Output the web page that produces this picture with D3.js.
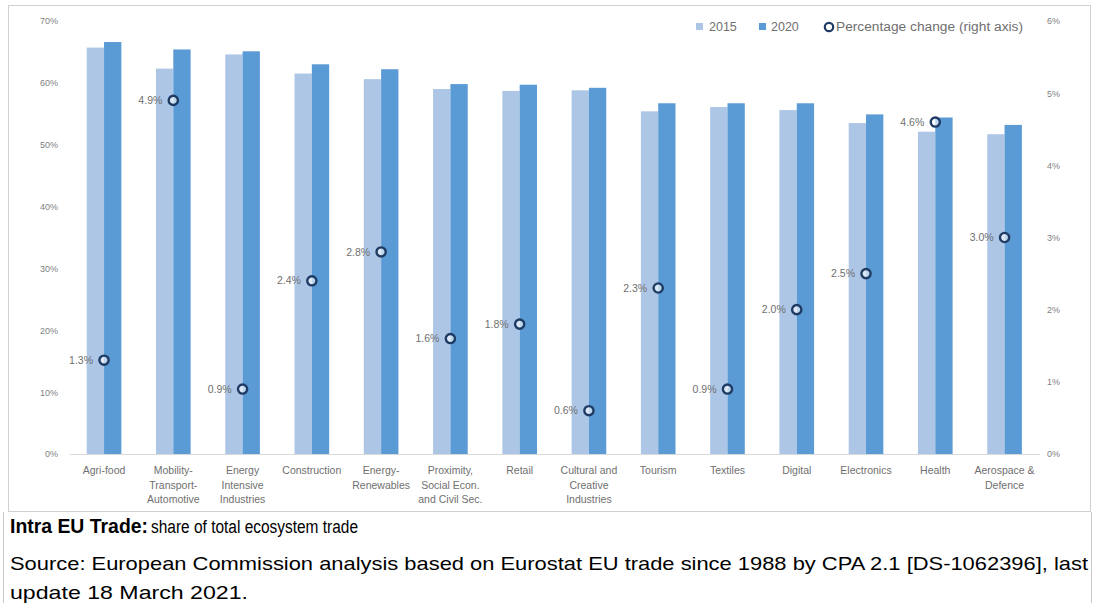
<!DOCTYPE html>
<html>
<head>
<meta charset="utf-8">
<script src="https://cdn.jsdelivr.net/npm/d3@7"></script>
<style>
  body { margin: 0; background: #fff; }
  svg { display: block; font-family: "Liberation Sans", Arial, sans-serif; }
</style>
</head>
<body>
<svg id="chart" width="1095" height="603"></svg>
<script>
// categories (line breaks as in the original axis labels)
const categories = [
  "Agri-food", "Mobility-\nTransport-\nAutomotive", "Energy\nIntensive\nIndustries",
  "Construction", "Energy-\nRenewables", "Proximity,\nSocial Econ.\nand Civil Sec.",
  "Retail", "Cultural and\nCreative\nIndustries", "Tourism", "Textiles",
  "Digital", "Electronics", "Health", "Aerospace &\nDefence"
];
const share2015 = [65.7, 62.3, 64.6, 61.5, 60.6, 59.0, 58.7, 58.8, 55.4, 56.1, 55.6, 53.5, 52.1, 51.7];
const share2020 = [66.6, 65.4, 65.1, 63.0, 62.2, 59.8, 59.7, 59.2, 56.7, 56.7, 56.7, 54.9, 54.4, 53.2];
const pctChange = [1.3, 4.9, 0.9, 2.4, 2.8, 1.6, 1.8, 0.6, 2.3, 0.9, 2.0, 2.5, 4.6, 3.0];
const leftTicks = [0, 10, 20, 30, 40, 50, 60, 70];
const rightTicks = [0, 1, 2, 3, 4, 5, 6];
const seriesNames = ["2015", "2020"];

const colors = { "2015": "#adc6e6", "2020": "#5b9bd5" };
const textGrey = "#7f7f7f";

const svg = d3.select("#chart");

// frame of chart and of table cell
svg.append("rect")
    .attr("x", 8.5).attr("y", 5.5)
    .attr("width", 1082).attr("height", 506)
    .attr("fill", "none").attr("stroke", "#d0d0d0");
svg.append("path")
    .attr("d", "M3.5,512 V603 M1091.5,512 V603")
    .attr("stroke", "#c8c8c8").attr("fill", "none");

const x = d3.scaleBand()
    .domain(categories)
    .range([69.4, 1039.2])
    .paddingInner(0.5)
    .paddingOuter(0.25);

const xSub = d3.scaleBand()
    .domain(seriesNames)
    .range([0, x.bandwidth()]);

const y = d3.scaleLinear().domain([0, 70]).range([454, 21]);
const yR = d3.scaleLinear().domain([0, 6]).range([454, 21]);

// left axis
const leftAxis = svg.append("g")
    .attr("transform", "translate(60,0)")
    .call(d3.axisLeft(y).tickValues(leftTicks).tickSize(0).tickPadding(2).tickFormat(d => d + "%"));
leftAxis.select(".domain").remove();
leftAxis.selectAll("text")
    .attr("fill", textGrey)
    .style("font-size", "9px")
    .style("font-family", "Liberation Sans, Arial, sans-serif");

// right axis
const rightAxis = svg.append("g")
    .attr("transform", "translate(1045,0)")
    .call(d3.axisRight(yR).tickValues(rightTicks).tickSize(0).tickPadding(2).tickFormat(d => d + "%"));
rightAxis.select(".domain").remove();
rightAxis.selectAll("text")
    .attr("fill", textGrey)
    .style("font-size", "9px")
    .style("font-family", "Liberation Sans, Arial, sans-serif");

// bars
const rows = categories.map((c, i) => ({
    cat: c,
    values: [{ key: "2015", v: share2015[i] }, { key: "2020", v: share2020[i] }],
    change: pctChange[i]
}));

const groups = svg.selectAll(".grp")
    .data(rows)
    .enter()
    .append("g")
    .attr("class", "grp")
    .attr("transform", d => `translate(${x(d.cat)},0)`);

groups.selectAll("rect")
    .data(d => d.values)
    .enter()
    .append("rect")
    .attr("x", d => xSub(d.key))
    .attr("y", d => y(d.v))
    .attr("width", xSub.bandwidth())
    .attr("height", d => y(0) - y(d.v))
    .attr("fill", d => colors[d.key]);

// baseline
svg.append("line")
    .attr("x1", 70).attr("x2", 1040)
    .attr("y1", y(0) + 0.5).attr("y2", y(0) + 0.5)
    .attr("stroke", "#d9d9d9");

// x labels
const xLabels = svg.selectAll(".xlab")
    .data(categories)
    .enter()
    .append("text")
    .attr("class", "xlab")
    .attr("text-anchor", "middle")
    .attr("fill", "#6f6f6f")
    .style("font-size", "10.5px");
xLabels.each(function (d) {
    const cx = x(d) + x.bandwidth() / 2;
    d3.select(this).selectAll("tspan")
        .data(d.split("\n"))
        .enter()
        .append("tspan")
        .attr("x", cx)
        .attr("y", (t, i) => 474 + i * 14.7)
        .text(t => t);
});

// percentage change markers
const pts = svg.selectAll(".pt")
    .data(rows)
    .enter()
    .append("g")
    .attr("class", "pt")
    .attr("transform", d => `translate(${x(d.cat) + x.bandwidth() / 2},${yR(d.change)})`);

pts.append("circle")
    .attr("r", 4.6)
    .attr("fill", "#ffffff")
    .attr("fill-opacity", 0.6)
    .attr("stroke", "#1f3b64")
    .attr("stroke-width", 2.4);

pts.append("text")
    .attr("x", -11)
    .attr("dy", "0.35em")
    .attr("text-anchor", "end")
    .attr("fill", "#6f6f6f")
    .style("font-size", "10.5px")
    .text(d => d.change.toFixed(1) + "%");

// legend
const legend = svg.append("g").attr("transform", "translate(0,27)");
legend.append("rect").attr("x", 696).attr("y", -4).attr("width", 7).attr("height", 7).attr("fill", colors["2015"]);
legend.append("text").attr("x", 709).attr("dy", "0.35em").attr("fill", "#6f6f6f").style("font-size", "12.5px").text("2015");
legend.append("rect").attr("x", 759).attr("y", -4).attr("width", 7).attr("height", 7).attr("fill", colors["2020"]);
legend.append("text").attr("x", 771).attr("dy", "0.35em").attr("fill", "#6f6f6f").style("font-size", "12.5px").text("2020");
legend.append("circle").attr("cx", 829).attr("cy", 0).attr("r", 4.2)
    .attr("fill", "#fff").attr("stroke", "#1f3b64").attr("stroke-width", 2.2);
legend.append("text").attr("x", 836).attr("dy", "0.35em").attr("fill", "#6f6f6f").style("font-size", "12.5px")
    .attr("textLength", 187).attr("lengthAdjust", "spacingAndGlyphs")
    .text("Percentage change (right axis)");

// caption
const cap = svg.append("g").style("font-family", "Liberation Sans, Arial, sans-serif");
cap.append("text").attr("x", 10).attr("y", 533)
    .style("font-size", "21px").style("font-weight", "bold").attr("fill", "#000")
    .attr("textLength", 138).attr("lengthAdjust", "spacingAndGlyphs")
    .text("Intra EU Trade:");
cap.append("text").attr("x", 151).attr("y", 533)
    .style("font-size", "18px").attr("fill", "#000")
    .attr("textLength", 207).attr("lengthAdjust", "spacingAndGlyphs")
    .text("share of total ecosystem trade");
cap.append("text").attr("x", 10).attr("y", 570)
    .style("font-size", "19px").attr("fill", "#000")
    .attr("textLength", 1078).attr("lengthAdjust", "spacingAndGlyphs")
    .text("Source:  European Commission analysis based on Eurostat EU trade since 1988 by CPA 2.1 [DS-1062396], last");
cap.append("text").attr("x", 10).attr("y", 599)
    .style("font-size", "19px").attr("fill", "#000")
    .attr("textLength", 238).attr("lengthAdjust", "spacingAndGlyphs")
    .text("update 18 March 2021.");
</script>
</body>
</html>
